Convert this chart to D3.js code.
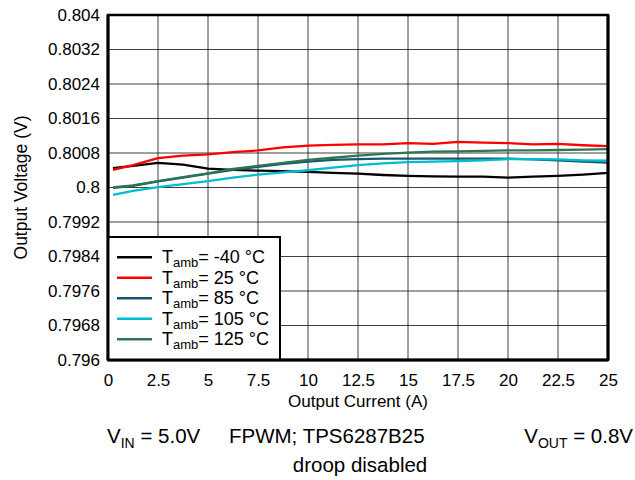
<!DOCTYPE html>
<html><head><meta charset="utf-8">
<script src="https://cdn.jsdelivr.net/npm/d3@7"></script>
<style>body{margin:0;background:#fff;} text{font-family:"Liberation Sans",Arial,sans-serif;}</style>
</head><body>
<svg id="c" width="635" height="480"></svg>
<script>
const current = [0.25,1.25,2.5,3.75,5,6.25,7.5,8.75,10,11.25,12.5,13.75,15,16.25,17.5,18.75,20,21.25,22.5,23.75,25];
const vM40  = [0.80045,0.8005,0.80057,0.80053,0.80044,0.80041,0.80039,0.80038,0.80036,0.80034,0.80032,0.80029,0.80027,0.80026,0.80025,0.80025,0.80023,0.80025,0.80027,0.8003,0.80034];
const v25   = [0.80041,0.80052,0.80068,0.80074,0.80077,0.80082,0.80086,0.80093,0.80097,0.80099,0.801,0.801,0.80103,0.80101,0.80106,0.80104,0.80103,0.801,0.80101,0.80098,0.80096];
const v85   = [0.79999,0.80004,0.80014,0.80023,0.80032,0.80041,0.80048,0.80055,0.8006,0.80064,0.80066,0.80067,0.80067,0.80067,0.80067,0.80067,0.80067,0.80065,0.80063,0.8006,0.80058];
const v105  = [0.79983,0.79992,0.80001,0.80008,0.80015,0.80023,0.8003,0.80035,0.8004,0.80046,0.80052,0.80056,0.80059,0.8006,0.80061,0.80063,0.80066,0.80066,0.80065,0.80063,0.80062];
const v125  = [0.8,0.80005,0.80015,0.80024,0.80033,0.80043,0.8005,0.80057,0.80064,0.80069,0.80074,0.80078,0.80081,0.80083,0.80084,0.80085,0.80086,0.80086,0.80087,0.80088,0.80089];
const seriesNames = ["-40 °C","25 °C","85 °C","105 °C","125 °C"];
const seriesColors = ["#000000","#ff0000","#16596b","#00bcd0","#2e7555"];
const seriesData = [vM40, v25, v85, v105, v125];
const xTicks = [0,2.5,5,7.5,10,12.5,15,17.5,20,22.5,25];
const yTicks = [0.796,0.7968,0.7976,0.7984,0.7992,0.8,0.8008,0.8016,0.8024,0.8032,0.804];
const yTickLabels = ["0.796","0.7968","0.7976","0.7984","0.7992","0.8","0.8008","0.8016","0.8024","0.8032","0.804"];

const svg = d3.select("#c");
const L=108, R=608, T=15, B=360;
const x = d3.scaleLinear().domain([0,25]).range([L,R]);
const y = d3.scaleLinear().domain([0.796,0.804]).range([B,T]);

// grid
const grid = svg.append("g");
grid.selectAll(".gx").data(xTicks).join("line")
  .attr("x1",d=>x(d)).attr("x2",d=>x(d)).attr("y1",T).attr("y2",B)
  .attr("stroke","#000").attr("stroke-width",1).attr("stroke-opacity",0.75);
grid.selectAll(".gy").data(yTicks).join("line")
  .attr("x1",L).attr("x2",R).attr("y1",d=>y(d)).attr("y2",d=>y(d))
  .attr("stroke","#000").attr("stroke-width",1).attr("stroke-opacity",0.75);

const xAxis = d3.axisBottom(x).tickValues(xTicks).tickSize(0).tickPadding(14).tickFormat(d3.format(""));
const gx = svg.append("g").attr("transform",`translate(0,${B})`).call(xAxis);
gx.select(".domain").remove();
gx.selectAll("text").attr("font-size",17).attr("fill","#000").attr("font-family","Liberation Sans, Arial, sans-serif");

const yAxis = d3.axisLeft(y).tickValues(yTicks).tickSize(0).tickPadding(8).tickFormat((d,i)=>yTickLabels[i]);
const gy = svg.append("g").attr("transform",`translate(${L},0)`).call(yAxis);
gy.select(".domain").remove();
gy.selectAll("text").attr("font-size",17).attr("fill","#000").attr("font-family","Liberation Sans, Arial, sans-serif");

// lines
const line = d3.line().x((d,i)=>x(current[i])).y(d=>y(d));
seriesData.forEach((s,k)=>{
  svg.append("path").datum(s).attr("d",line).attr("fill","none")
    .attr("stroke",seriesColors[k]).attr("stroke-width",2.3).attr("stroke-linejoin","round");
});

svg.append("rect").attr("x",L).attr("y",T).attr("width",R-L).attr("height",B-T)
  .attr("fill","none").attr("stroke","#000").attr("stroke-width",2.5);

// legend
const lg = svg.append("g");
lg.append("rect").attr("x",L).attr("y",237).attr("width",172).attr("height",B-237)
  .attr("fill","#fff").attr("stroke","#000").attr("stroke-width",2);
seriesNames.forEach((n,i)=>{
  const yy = 257.3 + i*20.5;
  lg.append("line").attr("x1",117).attr("x2",152).attr("y1",yy).attr("y2",yy)
    .attr("stroke",seriesColors[i]).attr("stroke-width",2.5);
  const t = lg.append("text").attr("x",162).attr("y",yy+6).attr("font-size",18).attr("fill","#000");
  t.append("tspan").text("T");
  t.append("tspan").attr("font-size",13).attr("dy",4).text("amb");
  t.append("tspan").attr("dy",-4).text("= "+n);
});

svg.append("line").attr("x1",L).attr("x2",L).attr("y1",T).attr("y2",B).attr("stroke","#000").attr("stroke-width",3);
svg.append("line").attr("x1",L).attr("x2",R).attr("y1",B).attr("y2",B).attr("stroke","#000").attr("stroke-width",3);
svg.append("line").attr("x1",R).attr("x2",R).attr("y1",T).attr("y2",B).attr("stroke","#000").attr("stroke-width",3);

// axis titles
svg.append("text").attr("x",(L+R)/2).attr("y",407).attr("text-anchor","middle").attr("font-size",17).text("Output Current (A)");
svg.append("text").attr("transform",`translate(27,${(T+B)/2}) rotate(-90)`).attr("text-anchor","middle").attr("font-size",17.5).text("Output Voltage (V)");

// footer
const f1 = svg.append("text").attr("x",107).attr("y",443).attr("font-size",20.5);
f1.append("tspan").text("V");
f1.append("tspan").attr("font-size",14).attr("dy",5).text("IN");
f1.append("tspan").attr("dy",-5).text(" = 5.0V");
svg.append("text").attr("x",229).attr("y",443).attr("font-size",20.5).text("FPWM; TPS6287B25");
const f2 = svg.append("text").attr("x",633).attr("y",443).attr("font-size",20.5).attr("text-anchor","end");
f2.append("tspan").text("V");
f2.append("tspan").attr("font-size",14).attr("dy",5).text("OUT");
f2.append("tspan").attr("dy",-5).text(" = 0.8V");
svg.append("text").attr("x",360).attr("y",472).attr("font-size",20.5).attr("text-anchor","middle").text("droop disabled");
</script>
</body></html>
